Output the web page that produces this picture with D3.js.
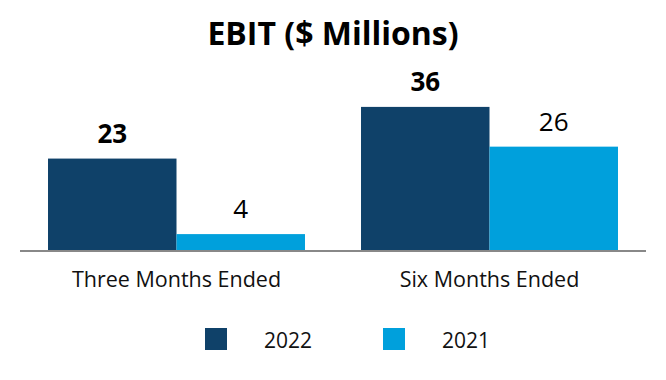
<!DOCTYPE html>
<html>
<head>
<meta charset="utf-8">
<script src="https://cdn.jsdelivr.net/npm/d3@7"></script>
<style>
  body { margin: 0; background: #fff; }
  svg { display: block; font-family: "Open Sans", sans-serif; }
</style>
</head>
<body>
<script>
// Chart data
const categories = ["Three Months Ended", "Six Months Ended"];
const seriesNames = ["2022", "2021"];
const values2022 = [23, 36];
const values2021 = [4, 26];

const colors = { "2022": "#0F4169", "2021": "#00A0DC" };

const width = 666;
const height = 380;
const baseY = 250;

// Build rows for the grouped bars
const rows = categories.map((c, i) => ({
  category: c,
  values: [
    { series: "2022", value: values2022[i] },
    { series: "2021", value: values2021[i] },
  ],
}));

const svg = d3.select("body")
  .append("svg")
  .attr("width", width)
  .attr("height", height);

// Title
svg.append("text")
  .attr("x", 333)
  .attr("y", 45)
  .attr("text-anchor", "middle")
  .style("font-size", "32px")
  .style("font-weight", "700")
  .text("EBIT ($ Millions)");

const x0 = d3.scaleBand()
  .domain(categories)
  .range([20, 646])
  .paddingInner(0.179)
  .paddingOuter(0.0895);

const x1 = d3.scaleBand()
  .domain(seriesNames)
  .range([0, x0.bandwidth()]);

const y = d3.scaleLinear()
  .domain([0, 40])
  .range([baseY, 91]);

const groups = svg.selectAll("g.group")
  .data(rows)
  .enter()
  .append("g")
  .attr("class", "group")
  .attr("transform", d => "translate(" + x0(d.category) + ",0)");

groups.selectAll("rect")
  .data(d => d.values)
  .enter()
  .append("rect")
  .attr("x", d => x1(d.series))
  .attr("y", d => y(d.value))
  .attr("width", x1.bandwidth())
  .attr("height", d => y(0) - y(d.value))
  .style("fill", d => colors[d.series]);

// Value labels, 2022 in bold
groups.selectAll("text.value")
  .data(d => d.values)
  .enter()
  .append("text")
  .attr("class", "value")
  .attr("x", d => x1(d.series) + x1.bandwidth() / 2)
  .attr("y", d => y(d.value) - 16)
  .attr("text-anchor", "middle")
  .style("font-size", "26px")
  .style("font-weight", d => d.series === "2022" ? "700" : "400")
  .style("fill", "#000")
  .text(d => d.value);

// Baseline axis
const xAxis = d3.axisBottom(x0).tickSize(0).tickPadding(21);
const axisG = svg.append("g")
  .attr("transform", "translate(0," + (baseY + 1) + ")")
  .call(xAxis);
axisG.select(".domain")
  .attr("d", "M20,0H646")
  .style("stroke", "#888")
  .style("stroke-width", 2);
axisG.selectAll("text")
  .style("font-family", "Open Sans, sans-serif")
  .style("font-size", "21.5px")
  .style("fill", "#111");

// Legend
const legendX = d3.scaleOrdinal().domain(seriesNames).range([205, 383]);
const legend = svg.selectAll("g.legend")
  .data(seriesNames)
  .enter()
  .append("g")
  .attr("class", "legend")
  .attr("transform", d => "translate(" + legendX(d) + ",328)");

legend.append("rect")
  .attr("width", 22)
  .attr("height", 22)
  .style("fill", d => colors[d]);

legend.append("text")
  .attr("x", 59)
  .attr("y", 20)
  .style("font-size", "21px")
  .style("fill", "#111")
  .text(d => d);
</script>
</body>
</html>
